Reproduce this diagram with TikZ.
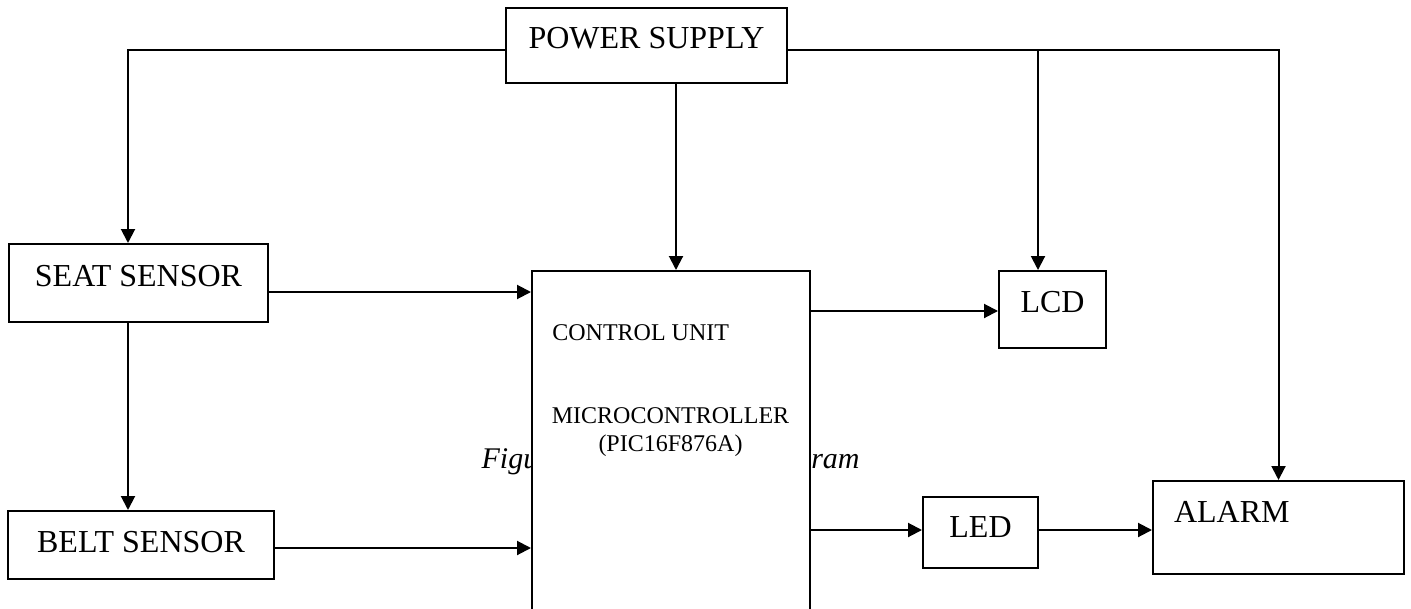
\documentclass[tikz,border=0pt]{standalone}
\usepackage{fontspec}
\setmainfont{Liberation Serif}
\usetikzlibrary{arrows.meta,calc}

\begin{document}
\begin{tikzpicture}[x=0.5pt, y=-0.5pt,
    box/.style={draw, line width=1pt, fill=white, inner sep=0pt,
      font=\fontsize{16}{19}\selectfont, text height=10.6pt},
    cutext/.style={inner sep=0pt, font=\fontsize{12}{14}\selectfont},
    arr/.style={-{Triangle[length=7pt, width=7pt]}, line width=1pt}]
  \useasboundingbox (0,0) rectangle (1411,609);

  % Caption (partly hidden by the control unit)
  \node[anchor=base east, inner sep=0pt, font=\fontsize{15}{18}\selectfont\itshape]
    (caption) at (860,468) {Figure 1: Main Block Diagram};

  % Blocks
  \node[box, minimum width=140.5pt, minimum height=37.5pt, text depth=7.5pt]
    (ps) at (646.5,45.5) {POWER SUPPLY};
  \node[box, minimum width=129.5pt, minimum height=39pt, text depth=7.5pt]
    (seat) at (138.5,283) {SEAT SENSOR};
  \node[box, minimum width=133pt, minimum height=34pt, text depth=3pt]
    (belt) at (141,545) {BELT SENSOR};
  \node[box, minimum width=139pt, minimum height=184.5pt]
    (cu) at (671,455.5) {};
  \node[box, minimum width=53.5pt, minimum height=38.5pt, text depth=7.5pt]
    (lcd) at (1052.5,309.5) {LCD};
  \node[box, minimum width=57.5pt, minimum height=35.5pt, text depth=5.5pt]
    (led) at (980.5,532.5) {LED};
  \node[box, minimum width=125.5pt, minimum height=46.5pt, text width=104.5pt,
    align=left, text depth=16pt] (alarm) at (1278.5,527.5) {ALARM};

  % Control unit texts
  \node[cutext, anchor=base west] (cutitle) at (552,340) {CONTROL UNIT};
  \node[cutext, anchor=base] (mcu) at (670.5,423) {MICROCONTROLLER};
  \node[cutext, anchor=base] (pic) at (670.5,451) {(PIC16F876A)};

  % Power lines
  \coordinate (lcdtap) at (1038,50);
  \draw[arr] (ps.west |- 0,50) -| (seat.north -| 128,0);
  \draw[arr] (ps.east |- 0,50) -| (alarm.north);
  \draw[arr] (lcdtap) -- (lcd.north -| lcdtap);
  \draw[arr] (ps.south -| 676,0) -- (cu.north -| 676,0);

  % Sensor lines
  \draw[arr] (seat.south -| 128,0) -- (belt.north -| 128,0);
  \draw[arr] (seat.east |- 0,292) -- (cu.west |- 0,292);
  \draw[arr] (belt.east |- 0,548) -- (cu.west |- 0,548);

  % Outputs
  \draw[arr] (cu.east |- 0,311) -- (lcd.west |- 0,311);
  \draw[arr] (cu.east |- 0,530) -- (led.west |- 0,530);
  \draw[arr] (led.east |- 0,530) -- (alarm.west |- 0,530);
\end{tikzpicture}
\end{document}
